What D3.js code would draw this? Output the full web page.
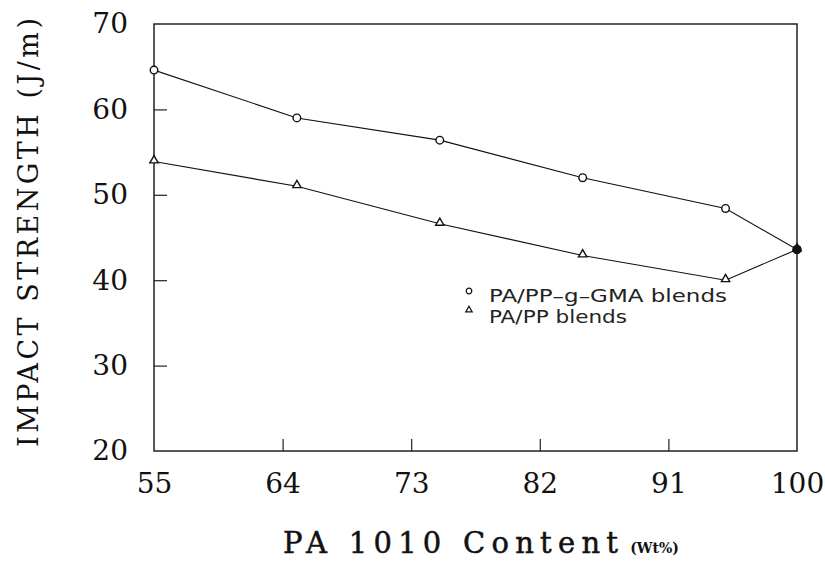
<!DOCTYPE html>
<html>
<head>
<meta charset="utf-8">
<script src="https://cdn.jsdelivr.net/npm/d3@7"></script>
<style>
  body { margin: 0; background: #fff; }
  svg { display: block; }
  .tick text { font-family: "DejaVu Serif", serif; font-size: 28px; fill: #111; }
</style>
</head>
<body>
<svg id="svg1" width="825" height="561"></svg>
<script>
// data
var content = [55, 65, 75, 85, 95, 100];
var gmaBlends = [64.6, 59.0, 56.4, 52.0, 48.4, 43.6];
var ppBlends = [53.9, 51.0, 46.6, 42.9, 40.0, 43.6];
var xTicks = [55, 64, 73, 82, 91, 100];
var yTicks = [20, 30, 40, 50, 60, 70];
var legendNames = ["PA/PP\u2013g\u2013GMA blends", "PA/PP blends"];

var svg = d3.select('#svg1');

var x0 = 154, x1 = 797, y0 = 451, y1 = 24;

var scaleX = d3.scaleLinear().domain([55, 100]).range([x0, x1]);
var scaleY = d3.scaleLinear().domain([20, 70]).range([y0, y1]);

// frame
svg.append('rect')
    .attr('x', x0).attr('y', y1)
    .attr('width', x1 - x0).attr('height', y0 - y1)
    .attr('fill', 'none')
    .attr('stroke', '#222')
    .attr('stroke-width', 1.5);

// y axis, ticks pointing inward
var yAxis = svg.append('g')
    .attr('transform', 'translate(' + x0 + ',0)')
    .call(d3.axisLeft(scaleY).tickValues(yTicks).tickSizeInner(-13).tickSizeOuter(0).tickPadding(26));
yAxis.select('.domain').remove();
yAxis.selectAll('.tick line').attr('stroke', '#222').attr('stroke-width', 1.2)
    .filter(function(d) { return d === 20 || d === 70; }).remove();

// x axis
var xAxis = svg.append('g')
    .attr('transform', 'translate(0,' + y0 + ')')
    .call(d3.axisBottom(scaleX).tickValues(xTicks).tickSizeInner(-12).tickSizeOuter(0).tickPadding(22));
xAxis.select('.domain').remove();
xAxis.selectAll('.tick line').attr('stroke', '#222').attr('stroke-width', 1.2)
    .filter(function(d) { return d === 55 || d === 100; }).remove();

// axis titles
svg.append('text')
    .attr('transform', 'translate(38,447) rotate(-90)')
    .attr('font-family', 'DejaVu Serif, serif')
    .attr('font-size', 27)
    .attr('fill', '#111')
    .attr('textLength', 429)
    .attr('lengthAdjust', 'spacing')
    .text('IMPACT STRENGTH (J/m)');

var xt = svg.append('text')
    .attr('x', 283).attr('y', 553)
    .attr('font-family', 'DejaVu Serif, serif')
    .attr('fill', '#111');
xt.append('tspan')
    .attr('font-size', 29)
    .attr('stroke', '#111')
    .attr('stroke-width', 0.5)
    .attr('textLength', 335)
    .attr('lengthAdjust', 'spacing')
    .text('PA 1010 Content');
xt.append('tspan')
    .attr('dx', 6)
    .attr('font-size', 14)
    .attr('font-weight', 'bold')
    .text('(Wt%)');

// lines
var line = d3.line()
    .x(function(d, i) { return scaleX(content[i]); })
    .y(function(d) { return scaleY(d); });

[gmaBlends, ppBlends].forEach(function(series) {
  svg.append('path')
      .datum(series)
      .attr('d', line)
      .attr('fill', 'none')
      .attr('stroke', '#111')
      .attr('stroke-width', 1.1);
});

// markers
svg.selectAll('.circ')
    .data(gmaBlends)
    .enter()
    .append('circle')
    .attr('class', 'circ')
    .attr('cx', function(d, i) { return scaleX(content[i]); })
    .attr('cy', function(d) { return scaleY(d); })
    .attr('r', 3.8)
    .attr('fill', '#fff')
    .attr('stroke', '#111')
    .attr('stroke-width', 1.4);

var tri = d3.symbol().type(d3.symbolTriangle).size(30);
svg.selectAll('.tri')
    .data(ppBlends)
    .enter()
    .append('path')
    .attr('class', 'tri')
    .attr('d', tri)
    .attr('transform', function(d, i) { return 'translate(' + scaleX(content[i]) + ',' + (scaleY(d) - 1) + ')'; })
    .attr('fill', '#fff')
    .attr('stroke', '#111')
    .attr('stroke-width', 1.4);

// shared end point at 100 shows as a solid dot
svg.append('circle')
    .attr('cx', scaleX(content[5]))
    .attr('cy', scaleY(gmaBlends[5]))
    .attr('r', 4.5)
    .attr('fill', '#111');

// legend
var legend = svg.append('g').attr('transform', 'translate(469,291)');
legend.append('circle')
    .attr('r', 2.8).attr('fill', 'none').attr('stroke', '#111').attr('stroke-width', 1.2);
legend.append('path')
    .attr('d', d3.symbol().type(d3.symbolTriangle).size(18))
    .attr('transform', 'translate(0,19)')
    .attr('fill', 'none').attr('stroke', '#111').attr('stroke-width', 1.2);
legend.selectAll('.legend-text')
    .data(legendNames)
    .enter()
    .append('text')
    .attr('class', 'legend-text')
    .attr('x', 20)
    .attr('y', function(d, i) { return 11 + i * 21; })
    .attr('font-family', 'DejaVu Sans, sans-serif')
    .attr('font-size', 18)
    .attr('fill', '#222')
    .attr('textLength', function(d, i) { return i === 0 ? 238 : 138; })
    .attr('lengthAdjust', 'spacingAndGlyphs')
    .text(function(d) { return d; });
</script>
</body>
</html>
